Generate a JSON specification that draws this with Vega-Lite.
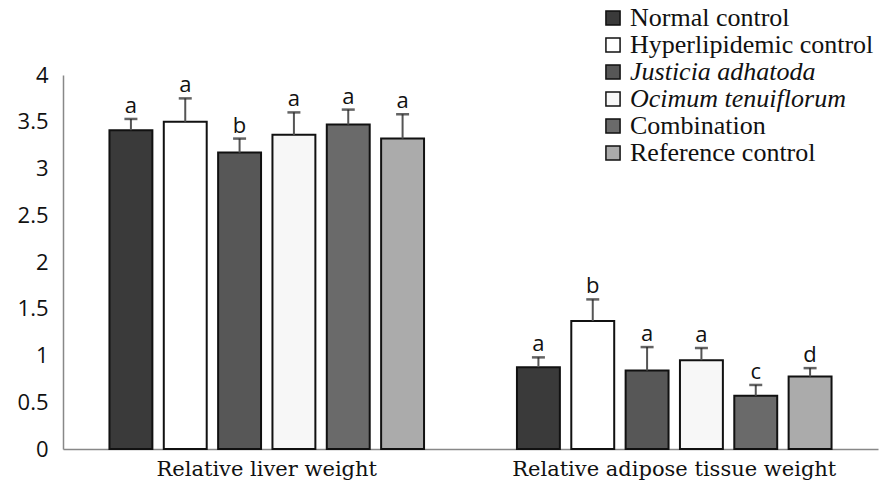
{
  "$schema": "https://vega.github.io/schema/vega-lite/v6.json",
  "width": 815,
  "height": 374,
  "autosize": {"type": "none"},
  "padding": {"left": 63, "top": 75, "right": 6, "bottom": 39},
  "background": "white",
  "config": {"view": {"stroke": null}},
  "data": {
    "values": [
      {"group": "Relative liver weight", "treatment": "Normal control", "mean": 3.41, "upper": 3.53, "letter": "a"},
      {"group": "Relative liver weight", "treatment": "Hyperlipidemic control", "mean": 3.50, "upper": 3.75, "letter": "a"},
      {"group": "Relative liver weight", "treatment": "Justicia adhatoda", "mean": 3.17, "upper": 3.32, "letter": "b"},
      {"group": "Relative liver weight", "treatment": "Ocimum tenuiflorum", "mean": 3.36, "upper": 3.60, "letter": "a"},
      {"group": "Relative liver weight", "treatment": "Combination", "mean": 3.47, "upper": 3.63, "letter": "a"},
      {"group": "Relative liver weight", "treatment": "Reference control", "mean": 3.32, "upper": 3.58, "letter": "a"},
      {"group": "Relative adipose tissue weight", "treatment": "Normal control", "mean": 0.875, "upper": 0.98, "letter": "a"},
      {"group": "Relative adipose tissue weight", "treatment": "Hyperlipidemic control", "mean": 1.37, "upper": 1.60, "letter": "b"},
      {"group": "Relative adipose tissue weight", "treatment": "Justicia adhatoda", "mean": 0.84, "upper": 1.09, "letter": "a"},
      {"group": "Relative adipose tissue weight", "treatment": "Ocimum tenuiflorum", "mean": 0.95, "upper": 1.08, "letter": "a"},
      {"group": "Relative adipose tissue weight", "treatment": "Combination", "mean": 0.57, "upper": 0.685, "letter": "c"},
      {"group": "Relative adipose tissue weight", "treatment": "Reference control", "mean": 0.775, "upper": 0.865, "letter": "d"}
    ]
  },
  "encoding": {
    "x": {
      "field": "group",
      "type": "nominal",
      "sort": ["Relative liver weight", "Relative adipose tissue weight"],
      "scale": {"paddingInner": 0, "paddingOuter": 0},
      "axis": {
        "title": null,
        "labelAngle": 0,
        "ticks": false,
        "domainColor": "#888",
        "domainWidth": 1.5,
        "labelFont": "DejaVu Serif",
        "labelFontSize": 21,
        "labelColor": "#111",
        "labelPadding": 9,
        "labelLimit": 400
      }
    },
    "xOffset": {
      "field": "treatment",
      "type": "nominal",
      "sort": ["Normal control", "Hyperlipidemic control", "Justicia adhatoda", "Ocimum tenuiflorum", "Combination", "Reference control"],
      "scale": {"paddingInner": 0.21, "paddingOuter": 0.855}
    }
  },
  "layer": [
    {
      "mark": {"type": "bar", "stroke": "#111", "strokeWidth": 2},
      "encoding": {
        "y": {
          "field": "mean",
          "type": "quantitative",
          "scale": {"domain": [0, 4]},
          "axis": {
            "title": null,
            "grid": false,
            "ticks": false,
            "domainColor": "#888",
            "domainWidth": 1.5,
            "values": [0, 0.5, 1, 1.5, 2, 2.5, 3, 3.5, 4],
            "format": "~g",
            "labelFont": "Open Sans",
            "labelFontSize": 22,
            "labelColor": "#111",
            "labelPadding": 15
          }
        },
        "fill": {
          "field": "treatment",
          "type": "nominal",
          "scale": {
            "domain": ["Normal control", "Hyperlipidemic control", "Justicia adhatoda", "Ocimum tenuiflorum", "Combination", "Reference control"],
            "range": ["#3a3a3a", "#ffffff", "#575757", "#f7f7f7", "#6a6a6a", "#ababab"]
          },
          "legend": {
            "title": null,
            "orient": "none",
            "legendX": 537,
            "legendY": -70,
            "symbolType": "square",
            "symbolSize": 200,
            "symbolStrokeColor": "#111",
            "symbolStrokeWidth": 1.5,
            "labelFont": "Liberation Serif",
            "labelFontSize": 26,
            "labelColor": "#111",
            "labelOffset": 4,
            "rowPadding": 1,
            "labelLimit": 300,
            "encode": {
              "labels": {
                "update": {
                  "fontStyle": {"signal": "indexof(['Justicia adhatoda','Ocimum tenuiflorum'], datum.label) >= 0 ? 'italic' : 'normal'"}
                }
              }
            }
          }
        }
      }
    },
    {
      "mark": {"type": "rule", "color": "#555", "strokeWidth": 2},
      "encoding": {
        "y": {"field": "mean", "type": "quantitative"},
        "y2": {"field": "upper"}
      }
    },
    {
      "mark": {"type": "tick", "color": "#222", "thickness": 2.5, "size": 13},
      "encoding": {
        "y": {"field": "upper", "type": "quantitative"}
      }
    },
    {
      "mark": {"type": "text", "font": "Open Sans", "fontSize": 22, "color": "#111", "baseline": "alphabetic", "dy": -6},
      "encoding": {
        "y": {"field": "upper", "type": "quantitative"},
        "text": {"field": "letter"}
      }
    }
  ]
}
